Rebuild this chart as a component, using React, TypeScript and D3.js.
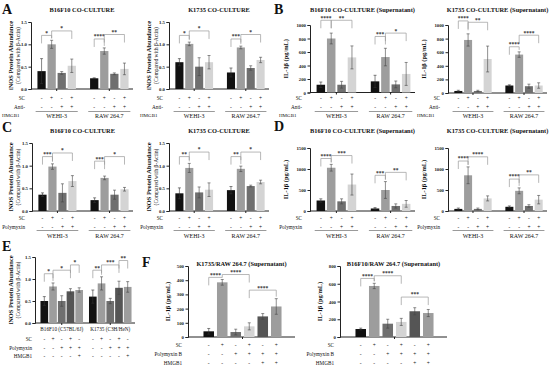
import { useEffect, useRef } from 'react';
import * as d3 from 'd3';

const FONT = '"Liberation Serif", "DejaVu Serif", serif';

const cellGroups = ['WEHI-3', 'RAW 264.7'];
const barColors = ['#111111', '#9d9d9d', '#6f6f6f', '#d4d4d4'];
const fColors = ['#111111', '#9d9d9d', '#6f6f6f', '#d4d4d4', '#555555', '#9d9d9d'];

// A: iNOS, anti-HMGB1
const aB16Mean = [[0.40, 1.00, 0.36, 0.52], [0.24, 0.85, 0.34, 0.45]];
const aB16Err = [[0.28, 0.09, 0.03, 0.15], [0.01, 0.07, 0.02, 0.13]];
const aK17Mean = [[0.60, 1.01, 0.50, 0.60], [0.37, 0.93, 0.47, 0.65]];
const aK17Err = [[0.08, 0.04, 0.20, 0.15], [0.10, 0.03, 0.05, 0.06]];
const aB16Sig = [[0, 0, 1, 1.2, '*'], [0, 1, 3, 1.3, '*'], [1, 0, 1, 1.12, '****'], [1, 1, 3, 1.22, '**']];
const aK17Sig = [[0, 0, 1, 1.2, '*'], [0, 1, 3, 1.3, '*'], [1, 0, 1, 1.12, '***'], [1, 1, 3, 1.22, '*']];

// B: IL-1β, anti-HMGB1
const bB16Mean = [[115, 800, 115, 520], [165, 525, 120, 275]];
const bB16Err = [[40, 80, 50, 170], [90, 130, 50, 170]];
const bK17Mean = [[30, 780, 30, 500], [110, 565, 100, 110]];
const bK17Err = [[10, 90, 10, 190], [10, 40, 30, 40]];
const bB16Sig = [[0, 0, 1, 1070, '****'], [0, 1, 3, 1070, '**'], [1, 0, 1, 830, '***'], [1, 1, 3, 880, '*']];
const bK17Sig = [[0, 0, 1, 1060, '****'], [0, 1, 3, 1040, '**'], [1, 0, 1, 680, '****'], [1, 1, 3, 850, '****']];

// C: iNOS, polymyxin
const cB16Mean = [[0.36, 0.98, 0.40, 0.66], [0.24, 0.73, 0.36, 0.48]];
const cB16Err = [[0.04, 0.06, 0.20, 0.12], [0.05, 0.04, 0.10, 0.04]];
const cK17Mean = [[0.39, 0.95, 0.41, 0.47], [0.46, 0.93, 0.55, 0.64]];
const cK17Err = [[0.12, 0.10, 0.12, 0.15], [0.08, 0.06, 0.02, 0.04]];
const cB16Sig = [[0, 0, 1, 1.2, '***'], [0, 1, 3, 1.28, '*'], [1, 0, 1, 1.1, '***'], [1, 1, 3, 1.2, '*']];
const cK17Sig = [[0, 0, 1, 1.2, '**'], [0, 1, 3, 1.3, '*'], [1, 0, 1, 1.2, '**'], [1, 1, 3, 1.3, '*']];

// D: IL-1β, polymyxin
const dB16Mean = [[250, 1030, 230, 630], [60, 500, 120, 170]];
const dB16Err = [[40, 80, 60, 250], [20, 200, 50, 80]];
const dK17Mean = [[50, 850, 50, 300], [100, 480, 120, 270]];
const dK17Err = [[20, 200, 20, 60], [20, 70, 30, 100]];
const dB16Sig = [[0, 0, 1, 1250, '****'], [0, 1, 3, 1320, '***'], [1, 0, 1, 850, '***'], [1, 1, 3, 920, '**']];
const dK17Sig = [[0, 0, 1, 1190, '****'], [0, 1, 3, 1290, '****'], [1, 0, 1, 760, '****'], [1, 1, 3, 860, '**']];

// E: iNOS in vivo
const eGroups = ['B16F10 (C57BL/6J)', 'K1735 (C3H/HeN)'];
const eColors = ['#111111', '#9d9d9d', '#6f6f6f', '#555555', '#9d9d9d'];
const eMean = [[0.50, 0.83, 0.50, 0.72, 0.75], [0.60, 0.90, 0.50, 0.80, 0.82]];
const eErr = [[0.10, 0.08, 0.12, 0.06, 0.05], [0.15, 0.15, 0.06, 0.15, 0.12]];
const eSig = [[0, 0, 1, 1.12, '*'], [0, 1, 3, 1.2, '*'], [0, 3, 4, 1.32, '*'], [1, 0, 1, 1.2, '**'], [1, 1, 3, 1.32, '***'], [1, 3, 4, 1.42, '**']];

// F: IL-1β with HMGB1 rescue
const fK17Mean = [[40, 385, 35, 75, 145, 215]];
const fK17Err = [[20, 20, 20, 25, 20, 55]];
const fB16Mean = [[90, 575, 150, 170, 290, 270]];
const fB16Err = [[10, 30, 50, 40, 40, 40]];
const fK17Sig = [[0, 0, 1, 420, '****'], [0, 1, 3, 440, '****'], [0, 3, 5, 330, '****']];
const fB16Sig = [[0, 0, 1, 660, '****'], [0, 1, 3, 690, '****'], [0, 3, 5, 450, '***']];

const scAnti = [['SC', ['-', '+', '-', '+']], ['Anti-', ['-', '-', '+', '+']]];
const scPoly = [['SC', ['-', '+', '-', '+']], ['Polymyxin', ['-', '-', '+', '+']]];
const eRows = [['SC', ['-', '+', '-', '+', '-']], ['Polymyxin', ['-', '-', '+', '+', '+']], ['HMGB1', ['-', '-', '-', '-', '+']]];
const fRows = [['SC', ['-', '+', '-', '+', '-', '+']], ['Polymyxin B', ['-', '-', '+', '+', '+', '+']], ['HMGB1', ['-', '-', '-', '-', '+', '+']]];

const inosTicks = [0, 0.5, 1.0, 1.5];
const il1000Ticks = [0, 200, 400, 600, 800, 1000];
const il1500Ticks = [0, 500, 1000, 1500];
const f500Ticks = [0, 100, 200, 300, 400, 500];
const f800Ticks = [0, 200, 400, 600, 800];

function drawChart(root: any, c: any) {
  const g = root.append('g');
  const y = d3.scaleLinear().domain([0, c.max]).range([c.y0, c.yTop]);
  const outer = d3.scaleBand().domain(d3.range(c.means.length) as any).range([c.x0 + 2, c.x1]).paddingInner(c.pin ?? 0.2).paddingOuter(0.05);
  const inner = d3.scaleBand().domain(d3.range(c.means[0].length) as any).range([0, outer.bandwidth()]).padding(c.bpad ?? 0.18);
  const cx = (gi: number, bi: number) => (outer(gi as any) as number) + (inner(bi as any) as number) + inner.bandwidth() / 2;

  // title
  if (c.title) {
    g.append('text').attr('x', (c.x0 + c.x1) / 2).attr('y', c.titleY).attr('text-anchor', 'middle')
      .attr('font-size', 6.4).attr('font-weight', 'bold').text(c.title);
  }

  // y axis
  const ax = g.append('g').attr('transform', `translate(${c.x0},0)`)
    .call(d3.axisLeft(y).tickValues(c.ticks).tickSize(2.5).tickPadding(1.5).tickFormat(c.fmt));
  ax.select('.domain').attr('stroke', '#222').attr('stroke-width', 1);
  ax.selectAll('.tick line').attr('stroke', '#222');
  ax.selectAll('.tick text').attr('font-size', 4.8).attr('font-family', FONT).attr('fill', '#222').attr('font-weight', 'bold');

  // x axis baseline
  g.append('line').attr('x1', c.x0).attr('x2', c.x1).attr('y1', c.y0).attr('y2', c.y0).attr('stroke', '#222').attr('stroke-width', 1);
  c.means.forEach((_: any, gi: number) => {
    const mx = (outer(gi as any) as number) + outer.bandwidth() / 2;
    g.append('line').attr('x1', mx).attr('x2', mx).attr('y1', c.y0).attr('y2', c.y0 + 2).attr('stroke', '#222');
  });

  // bars + error bars
  c.means.forEach((grp: number[], gi: number) => {
    grp.forEach((v, bi) => {
      const x = cx(gi, bi);
      const w = inner.bandwidth();
      g.append('rect').attr('x', x - w / 2).attr('y', y(v)).attr('width', w).attr('height', c.y0 - y(v))
        .attr('fill', c.colors[bi]);
      const e = c.errs[gi][bi];
      const ec = bi === 0 ? '#333' : '#444';
      g.append('line').attr('x1', x).attr('x2', x).attr('y1', y(Math.max(0, v - e))).attr('y2', y(v + e)).attr('stroke', ec).attr('stroke-width', 0.6);
      g.append('line').attr('x1', x - 1.5).attr('x2', x + 1.5).attr('y1', y(v + e)).attr('y2', y(v + e)).attr('stroke', ec).attr('stroke-width', 0.6);
      g.append('line').attr('x1', x - 1.5).attr('x2', x + 1.5).attr('y1', y(Math.max(0, v - e))).attr('y2', y(Math.max(0, v - e))).attr('stroke', ec).attr('stroke-width', 0.6);
    });
  });

  // significance brackets
  c.sigs.forEach(([gi, a, b, v, lab]: any) => {
    const xa = cx(gi, a), xb = cx(gi, b);
    const yy = y(v);
    const la = Math.min(y(c.means[gi][a] + c.errs[gi][a]) - 2, yy + 8);
    const lb = Math.min(y(c.means[gi][b] + c.errs[gi][b]) - 2, yy + 8);
    g.append('path').attr('d', `M${xa},${la}V${yy}H${xb}V${lb}`).attr('fill', 'none').attr('stroke', '#999').attr('stroke-width', 0.7);
    g.append('text').attr('x', (xa + xb) / 2).attr('y', yy - 0.6).attr('text-anchor', 'middle').attr('font-size', 5.5)
      .attr('font-weight', 'bold').attr('fill', '#333').text(lab);
  });

  // y label
  const ym = (c.y0 + c.yTop) / 2;
  c.ylab.forEach((t: string, i: number) => {
    g.append('text').attr('transform', `translate(${c.ylabX + i * 7},${ym}) rotate(-90)`).attr('text-anchor', 'middle')
      .attr('font-size', i === 0 ? 6.4 : 5.6).attr('font-weight', i === 0 ? 'bold' : 'normal').text(t);
  });

  // rows of +/- under bars
  c.rows.forEach(([name, signs]: any, ri: number) => {
    const yy = c.rowY[ri];
    g.append('text').attr('x', c.rowLabX).attr('y', yy).attr('text-anchor', 'end').attr('font-size', 5.2).text(name);
    c.means.forEach((_: any, gi: number) => {
      signs.forEach((s: string, bi: number) => {
        g.append('text').attr('x', cx(gi, bi)).attr('y', yy).attr('text-anchor', 'middle').attr('font-size', 5.4).text(s);
      });
    });
  });
  if (c.extraRow) {
    g.append('text').attr('x', c.rowLabX - c.extraRow[1]).attr('y', c.extraRow[2]).attr('text-anchor', 'start').attr('font-size', 5).text(c.extraRow[0]);
  }

  // group labels
  if (c.groups) {
    c.groups.forEach((name: string, gi: number) => {
      const gx = outer(gi as any) as number;
      if (c.groupLineY) {
        g.append('line').attr('x1', gx).attr('x2', gx + outer.bandwidth()).attr('y1', c.groupLineY).attr('y2', c.groupLineY)
          .attr('stroke', '#555').attr('stroke-width', 0.6);
      }
      g.append('text').attr('x', gx + outer.bandwidth() / 2).attr('y', c.groupY).attr('text-anchor', 'middle')
        .attr('font-size', c.groupFont ?? 6).text(name);
    });
  }
}

export default function App() {
  const ref = useRef<SVGSVGElement>(null);

  useEffect(() => {
    if (!ref.current) return;
    const svg = d3.select(ref.current);
    svg.selectAll('*').remove();
    svg.append('rect').attr('width', 550).attr('height', 369).attr('fill', '#fff');
    const root = svg.append('g').attr('font-family', FONT).attr('fill', '#111');

    const letters: [string, number, number][] = [['A', 2, 14], ['B', 274, 14], ['C', 2, 132], ['D', 274, 131], ['E', 2, 251], ['F', 142, 267]];
    letters.forEach(([l, x, yy]) => root.append('text').attr('x', x).attr('y', yy).attr('font-size', 14).attr('font-weight', 'bold').text(l));

    const inosLab = ['iNOS Protein Abundance', '(Compared with β-Actin)'];
    const ilLab = ['IL-1β (pg/mL)'];
    const f1 = (d: any) => d3.format('.1f')(d);
    const f0 = (d: any) => String(d);
    const topRowsA = { rows: scAnti, rowY: [100, 108.5], extraRow: ['HMGB1', 23, 117], groups: cellGroups, groupLineY: 111.5, groupY: 118 };
    const topRowsC = { rows: scPoly, rowY: [220, 228.5], groups: cellGroups, groupLineY: 230.5, groupY: 237.5 };

    drawChart(root, { x0: 31, x1: 133, y0: 89, yTop: 22, max: 1.5, ticks: inosTicks, fmt: f1, means: aB16Mean, errs: aB16Err, colors: barColors, sigs: aB16Sig, title: 'B16F10 CO-CULTURE', titleY: 12, ylab: inosLab, ylabX: 13, rowLabX: 25, ...topRowsA });
    drawChart(root, { x0: 169, x1: 269, y0: 89, yTop: 22, max: 1.5, ticks: inosTicks, fmt: f1, means: aK17Mean, errs: aK17Err, colors: barColors, sigs: aK17Sig, title: 'K1735 CO-CULTURE', titleY: 12, ylab: inosLab, ylabX: 151, rowLabX: 163, ...topRowsA });
    drawChart(root, { x0: 310, x1: 415, y0: 92.5, yTop: 25, max: 1000, ticks: il1000Ticks, fmt: f0, means: bB16Mean, errs: bB16Err, colors: barColors, sigs: bB16Sig, title: 'B16F10 CO-CULTURE (Supernatant)', titleY: 12, ylab: ilLab, ylabX: 288, rowLabX: 302, ...topRowsA });
    drawChart(root, { x0: 448, x1: 547, y0: 93, yTop: 25, max: 1000, ticks: il1000Ticks, fmt: f0, means: bK17Mean, errs: bK17Err, colors: barColors, sigs: bK17Sig, title: 'K1735 CO-CULTURE (Supernatant)', titleY: 12, ylab: ilLab, ylabX: 426, rowLabX: 440, ...topRowsA });

    drawChart(root, { x0: 32, x1: 133, y0: 211, yTop: 143, max: 1.5, ticks: inosTicks, fmt: f1, means: cB16Mean, errs: cB16Err, colors: barColors, sigs: cB16Sig, title: 'B16F10 CO-CULTURE', titleY: 133, ylab: inosLab, ylabX: 13, rowLabX: 25, ...topRowsC });
    drawChart(root, { x0: 169, x1: 269, y0: 211, yTop: 143, max: 1.5, ticks: inosTicks, fmt: f1, means: cK17Mean, errs: cK17Err, colors: barColors, sigs: cK17Sig, title: 'K1735 CO-CULTURE', titleY: 133, ylab: inosLab, ylabX: 151, rowLabX: 163, ...topRowsC });
    drawChart(root, { x0: 310, x1: 415, y0: 211, yTop: 148, max: 1500, ticks: il1500Ticks, fmt: f0, means: dB16Mean, errs: dB16Err, colors: barColors, sigs: dB16Sig, title: 'B16F10 CO-CULTURE (Supernatant)', titleY: 133, ylab: ilLab, ylabX: 288, rowLabX: 302, ...topRowsC });
    drawChart(root, { x0: 448, x1: 547, y0: 211, yTop: 148, max: 1500, ticks: il1500Ticks, fmt: f0, means: dK17Mean, errs: dK17Err, colors: barColors, sigs: dK17Sig, title: 'K1735 CO-CULTURE (Supernatant)', titleY: 133, ylab: ilLab, ylabX: 426, rowLabX: 440, ...topRowsC });

    drawChart(root, { x0: 35, x1: 135, y0: 323, yTop: 257, max: 1.5, ticks: inosTicks, fmt: f1, means: eMean, errs: eErr, colors: eColors, sigs: eSig, ylab: inosLab, ylabX: 13, rowLabX: 32, rows: eRows, rowY: [341, 349.5, 358], groups: eGroups, groupY: 331, groupFont: 5.2, pin: 0.08, bpad: 0.12 });

    drawChart(root, { x0: 188, x1: 295, y0: 337, yTop: 266, max: 500, ticks: f500Ticks, fmt: f0, means: fK17Mean, errs: fK17Err, colors: fColors, sigs: fK17Sig, title: 'K1735/RAW 264.7 (Supernatant)', titleY: 266, ylab: ilLab, ylabX: 170, rowLabX: 182, rows: fRows, rowY: [347, 356, 365], bpad: 0.22 });
    drawChart(root, { x0: 340, x1: 447, y0: 337, yTop: 266, max: 800, ticks: f800Ticks, fmt: f0, means: fB16Mean, errs: fB16Err, colors: fColors, sigs: fB16Sig, title: 'B16F10/RAW 264.7 (Supernatant)', titleY: 266, ylab: ilLab, ylabX: 322, rowLabX: 334, rows: fRows, rowY: [347, 356, 365], bpad: 0.22 });
  }, []);

  return (
    <svg ref={ref} width={550} height={369} style={{ position: 'absolute', left: 0, top: 0 }} />
  );
}
